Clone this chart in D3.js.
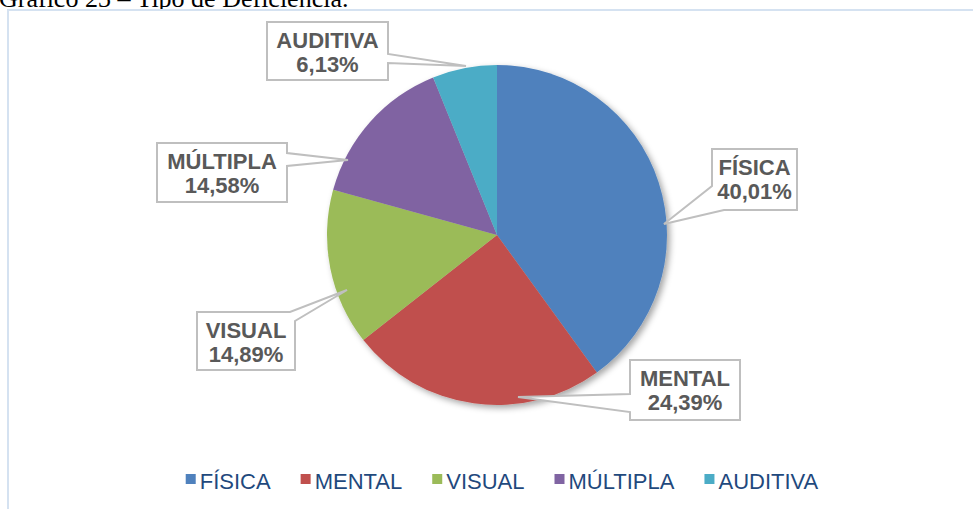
<!DOCTYPE html>
<html>
<head>
<meta charset="utf-8">
<script src="https://cdn.jsdelivr.net/npm/d3@7"></script>
<style>
  body { margin: 0; background: #fff; }
  svg { display: block; }
</style>
</head>
<body>
<div id="chart"></div>
<script>
// data
const categories = ['FÍSICA', 'MENTAL', 'VISUAL', 'MÚLTIPLA', 'AUDITIVA'];
const values = [40.01, 24.39, 14.89, 14.58, 6.13];
const colors = ['#4f81bd', '#c0504d', '#9bbb59', '#8064a2', '#4bacc6'];

// callout layout: box [x0, y0, x1, y1], wedge base points a, b (clockwise), tip
const callouts = [
    { box: [712, 149, 797, 210], a: [724, 210], b: [712, 186], tip: [664, 224] },
    { box: [630, 360, 740, 420], a: [630, 412], b: [630, 394], tip: [518, 397] },
    { box: [197, 312, 295, 370], a: [290, 312], b: [295, 321], tip: [347, 290] },
    { box: [157, 143, 287, 202], a: [287, 153], b: [287, 166], tip: [348, 160] },
    { box: [267, 22, 388, 80],  a: [388, 54],  b: [388, 63],  tip: [466, 66] }
];

var width = 973, height = 509;
var cx = 497, cy = 235, radius = 170;

var svg = d3.select('#chart').append('svg')
    .attr('width', width)
    .attr('height', height);

var defs = svg.append('defs');
var shadow = defs.append('filter').attr('id', 'shadow')
    .attr('x', '-20%').attr('y', '-20%').attr('width', '140%').attr('height', '140%');
shadow.append('feDropShadow')
    .attr('dx', 3).attr('dy', 3).attr('stdDeviation', 3)
    .attr('flood-color', '#000').attr('flood-opacity', 0.35);

// title, mostly cut off at the top
svg.append('text')
    .attr('x', -1)
    .attr('y', 7)
    .style('font-family', '"Liberation Serif", "Times New Roman", serif')
    .style('font-size', '26px')
    .attr('fill', '#000')
    .text('Gráfico 23 – Tipo de Deficiência.');

// chart area border
svg.append('rect')
    .attr('x', 8).attr('y', 10)
    .attr('width', 1000).attr('height', 600)
    .attr('fill', '#fff')
    .attr('stroke', '#d5e2f1')
    .attr('stroke-width', 2);

// pie
var pie = d3.pie().sort(null).value(d => d);
var arc = d3.arc().innerRadius(0).outerRadius(radius);

var g = svg.append('g')
    .attr('transform', `translate(${cx},${cy})`)
    .attr('filter', 'url(#shadow)');

g.selectAll('path')
    .data(pie(values))
    .enter().append('path')
    .attr('d', arc)
    .attr('fill', (d, i) => colors[i]);

// callout outline: walk the box perimeter and splice in the wedge
function calloutPath(c) {
    const [x0, y0, x1, y1] = c.box;
    const w = x1 - x0, h = y1 - y0;
    function t(p) {
        if (Math.abs(p[1] - y0) < 0.5) return p[0] - x0;
        if (Math.abs(p[0] - x1) < 0.5) return w + (p[1] - y0);
        if (Math.abs(p[1] - y1) < 0.5) return w + h + (x1 - p[0]);
        return 2 * w + h + (y1 - p[1]);
    }
    const corners = [[[x0, y0], 0], [[x1, y0], w], [[x1, y1], w + h], [[x0, y1], 2 * w + h]];
    const ta = t(c.a), tb = t(c.b);
    let pts = [c.b];
    corners.filter(k => k[1] > tb).forEach(k => pts.push(k[0]));
    corners.filter(k => k[1] < ta).forEach(k => pts.push(k[0]));
    pts.push(c.a, c.tip);
    return 'M' + pts.map(p => p.join(',')).join('L') + 'Z';
}

var labels = svg.append('g');
callouts.forEach((c, i) => {
    labels.append('path')
        .attr('d', calloutPath(c))
        .attr('fill', '#fff')
        .attr('stroke', '#bfbfbf')
        .attr('stroke-width', 2)
        .attr('stroke-linejoin', 'miter');
    var mx = (c.box[0] + c.box[2]) / 2;
    var t = labels.append('text')
        .attr('text-anchor', 'middle')
        .style('font-family', '"Liberation Sans", Arial, sans-serif')
        .style('font-size', '22px')
        .style('font-weight', 'bold')
        .attr('fill', '#595959');
    t.append('tspan').attr('x', mx).attr('y', c.box[1] + 26).text(categories[i]);
    t.append('tspan').attr('x', mx).attr('y', c.box[1] + 50)
        .text(values[i].toFixed(2).replace('.', ',') + '%');
});

// legend
var legend = svg.append('g');
var items = legend.selectAll('g')
    .data(categories)
    .enter().append('g');

items.append('rect')
    .attr('width', 10).attr('height', 10)
    .attr('y', -15)
    .attr('fill', (d, i) => colors[i]);

items.append('text')
    .attr('x', 14)
    .style('font-family', '"Liberation Sans", Arial, sans-serif')
    .style('font-size', '22px')
    .attr('fill', '#1f497d')
    .text(d => d);

var gap = 30, xpos = 0;
var offsets = [];
items.each(function() {
    offsets.push(xpos);
    var tw = d3.select(this).select('text').node().getComputedTextLength();
    xpos += 14 + tw + gap;
});
var total = xpos - gap;
var startX = 502 - total / 2;
items.attr('transform', (d, i) => `translate(${startX + offsets[i]},489)`);
</script>
</body>
</html>
